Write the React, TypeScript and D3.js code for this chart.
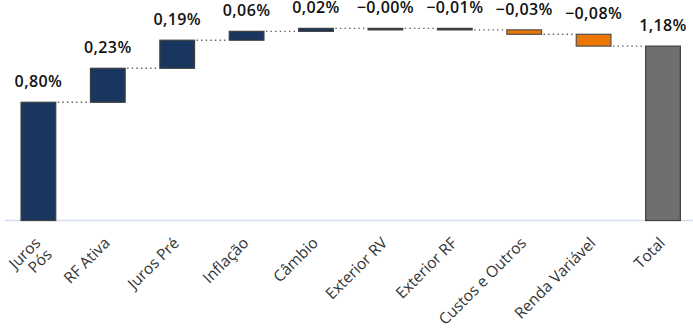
import React from "react";
import * as d3 from "d3";

const categories = ["Juros|Pós", "RF Ativa", "Juros Pré", "Inflação", "Câmbio", "Exterior RV", "Exterior RF", "Custos e Outros", "Renda Variável", "Total"];
const deltas = [0.80, 0.23, 0.19, 0.06, 0.02, -0.00, -0.01, -0.03, -0.08];
const valueLabels = ["0,80%", "0,23%", "0,19%", "0,06%", "0,02%", "\u22120,00%", "\u22120,01%", "\u22120,03%", "\u22120,08%", "1,18%"];
const barKinds = ["pos", "pos", "pos", "pos", "pos", "pos", "pos", "neg", "neg", "total"];

const W = 693;
const H = 331;

export default function App() {
  const x = d3.scaleBand<string>().domain(categories).range([3.7, 697.7]).paddingInner(0.5).paddingOuter(0.25);
  const y = d3.scaleLinear().domain([0, 1.4]).range([220.5, 13.6]);

  type Bar = { cat: string; start: number; end: number; kind: string; label: string };
  const bars: Bar[] = [];
  let cum = 0;
  deltas.forEach((d, i) => {
    bars.push({ cat: categories[i], start: cum, end: cum + d, kind: barKinds[i], label: valueLabels[i] });
    cum += d;
  });
  bars.push({ cat: categories[9], start: 0, end: cum, kind: "total", label: valueLabels[9] });

  const fill = (k: string) => (k === "total" ? "#6f6f6f" : k === "neg" ? "#ec7600" : "#18365e");
  const stroke = (k: string) => (k === "neg" ? "#505050" : "#3f3f3f");
  const bw = x.bandwidth();

  return (
    <svg width={W} height={H} style={{ position: "absolute", left: 0, top: 0 }} fontFamily="'Open Sans', sans-serif">
      <line x1={5} x2={693} y1={220.5} y2={220.5} stroke="#d3ddef" strokeWidth={1.5} />
      {bars.map((b, i) => {
        if (i >= bars.length - 1) return null;
        const nb = bars[i + 1];
        const level = b.end;
        return (
          <line key={"c" + i} x1={(x(b.cat) as number) + bw + 2} x2={(x(nb.cat) as number) - 1}
            y1={y(level)} y2={y(level)} stroke="#606060" strokeWidth={1.4} strokeDasharray="1.4 3.2" />
        );
      })}
      {bars.map((b) => {
        const top = Math.min(y(b.start), y(b.end));
        const h = Math.max(Math.abs(y(b.start) - y(b.end)), 1.5);
        return (
          <rect key={b.cat} x={x(b.cat)} y={top} width={bw} height={h} fill={fill(b.kind)} stroke={stroke(b.kind)} strokeWidth={1.2} />
        );
      })}
      {bars.map((b) => {
        const top = Math.min(y(b.start), y(b.end));
        return (
          <text key={"l" + b.cat} x={(x(b.cat) as number) + bw / 2} y={top - 15.3} textAnchor="middle"
            fontSize={16} fontWeight={600} letterSpacing={0.4} fill="#111">{b.label}</text>
        );
      })}
      {categories.map((c) => {
        const cx = (x(c) as number) + bw / 2 + 3;
        const cy = 244;
        const lines = c.split("|");
        return (
          <text key={"a" + c} transform={`translate(${cx},${cy}) rotate(-45)`} textAnchor="end" fontSize={15.5} fill="#333">
            {lines.map((ln, j) => (
              <tspan key={j} x={0} dy={j === 0 ? 0 : "1.05em"}>{ln}</tspan>
            ))}
          </text>
        );
      })}
    </svg>
  );
}
